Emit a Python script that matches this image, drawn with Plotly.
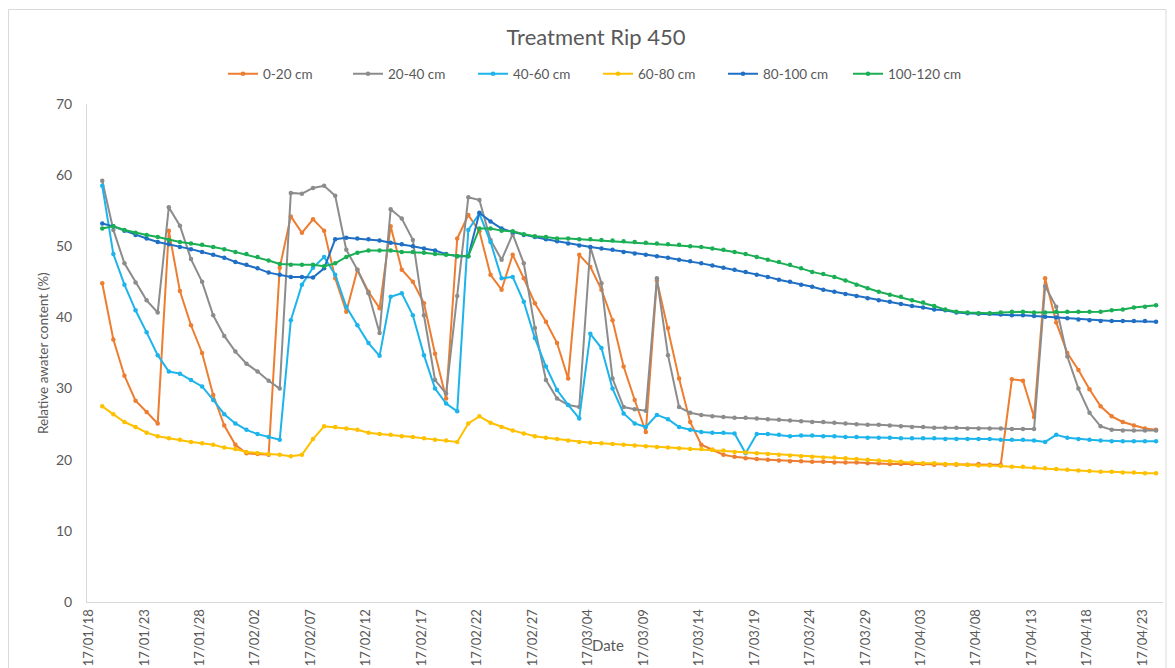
import pandas as pd
import plotly.graph_objects as go

# ---- data ----
start_date = "2017-01-19 05:00"
n_days = 96
tick_dates = pd.date_range("2017-01-18", "2017-04-23", freq="5D")

s_0_20 = [44.8, 36.9, 31.8, 28.3, 26.7, 25.1, 52.2, 43.7, 38.9, 35.0,
          29.1, 24.8, 22.1, 20.9, 20.8, 20.7, 47.0, 54.2, 51.9, 53.8,
          52.2, 45.5, 40.8, 46.7, 43.6, 41.3, 52.8, 46.7, 45.0, 42.0,
          34.9, 28.6, 51.1, 54.4, 52.1, 46.0, 43.9, 48.8, 45.5, 42.0,
          39.4, 36.4, 31.4, 48.8, 47.1, 43.9, 39.6, 33.1, 28.4, 23.9,
          45.2, 38.5, 31.4, 25.3, 22.1, 21.4, 20.7, 20.4, 20.2, 20.1,
          20.0, 19.9, 19.8, 19.8, 19.7, 19.7, 19.6, 19.6, 19.6, 19.5,
          19.5, 19.4, 19.4, 19.4, 19.4, 19.3, 19.3, 19.3, 19.3, 19.4,
          19.3, 19.3, 31.3, 31.1, 26.0, 45.5, 39.3, 35.0, 32.6, 29.9,
          27.5, 26.1, 25.3, 24.8, 24.4, 24.2]

s_20_40 = [59.2, 52.3, 47.6, 44.9, 42.4, 40.7, 55.5, 52.9, 48.2, 45.0,
           40.3, 37.4, 35.2, 33.5, 32.4, 31.1, 30.0, 57.5, 57.4, 58.2,
           58.5, 57.1, 49.5, 46.7, 43.4, 37.8, 55.2, 53.9, 50.9, 40.3,
           31.2, 29.3, 43.0, 56.9, 56.5, 50.9, 48.1, 51.7, 47.6, 38.5,
           31.2, 28.6, 27.7, 27.4, 49.9, 44.8, 31.4, 27.4, 27.1, 26.9,
           45.5, 34.7, 27.4, 26.6, 26.3, 26.1, 26.0, 25.9, 25.9, 25.8,
           25.7, 25.6, 25.5, 25.4, 25.3, 25.3, 25.2, 25.1, 25.0, 24.9,
           24.9, 24.8, 24.7, 24.6, 24.6, 24.5, 24.5, 24.5, 24.4, 24.4,
           24.4, 24.4, 24.3, 24.3, 24.3, 44.4, 41.5, 34.5, 30.0, 26.6,
           24.7, 24.2, 24.1, 24.1, 24.1, 24.1]

s_40_60 = [58.5, 48.9, 44.6, 41.0, 37.9, 34.7, 32.4, 32.1, 31.2, 30.3,
           28.4, 26.4, 25.1, 24.2, 23.6, 23.2, 22.8, 39.6, 44.6, 47.0,
           48.5, 46.0, 41.5, 38.9, 36.4, 34.6, 42.9, 43.4, 40.3, 34.7,
           30.0, 27.9, 26.8, 52.3, 54.6, 50.6, 45.5, 45.7, 42.2, 37.1,
           33.1, 29.8, 27.7, 25.8, 37.7, 35.7, 30.0, 26.5, 25.1, 24.6,
           26.3, 25.7, 24.6, 24.2, 23.9, 23.8, 23.8, 23.7, 20.9, 23.6,
           23.6, 23.5, 23.3, 23.4, 23.4, 23.3, 23.3, 23.2, 23.2, 23.1,
           23.1, 23.1, 23.0, 23.0, 23.0, 23.0, 22.9, 22.9, 22.9, 22.9,
           22.9, 22.8, 22.8, 22.8, 22.7, 22.5, 23.5, 23.1, 22.9, 22.8,
           22.7, 22.6, 22.6, 22.6, 22.6, 22.6]

s_60_80 = [27.5, 26.4, 25.3, 24.6, 23.8, 23.3, 23.0, 22.8, 22.5, 22.3,
           22.1, 21.7, 21.5, 21.1, 20.9, 20.8, 20.7, 20.5, 20.7, 22.9,
           24.7, 24.6, 24.4, 24.2, 23.8, 23.6, 23.5, 23.3, 23.2, 23.0,
           22.8, 22.7, 22.5, 25.1, 26.1, 25.2, 24.6, 24.1, 23.7, 23.3,
           23.1, 22.9, 22.7, 22.5, 22.4, 22.3, 22.2, 22.1, 22.0, 21.9,
           21.8, 21.7, 21.6, 21.5, 21.5, 21.4, 21.3, 21.1, 21.0, 20.9,
           20.8, 20.7, 20.6, 20.5, 20.4, 20.3, 20.3, 20.2, 20.1, 20.0,
           19.9, 19.8, 19.7, 19.6, 19.5, 19.5, 19.4, 19.4, 19.3, 19.2,
           19.2, 19.1, 19.0, 19.0, 18.9, 18.8, 18.7, 18.6, 18.5, 18.4,
           18.3, 18.3, 18.2, 18.2, 18.1, 18.1]

s_80_100 = [53.2, 52.8, 52.2, 51.6, 51.1, 50.6, 50.3, 49.9, 49.6, 49.2,
            48.8, 48.4, 47.8, 47.4, 46.9, 46.3, 46.0, 45.7, 45.7, 45.6,
            46.9, 51.0, 51.2, 51.1, 51.0, 50.8, 50.5, 50.3, 50.0, 49.7,
            49.4, 48.9, 48.6, 48.6, 54.7, 53.5, 52.5, 52.0, 51.6, 51.3,
            51.0, 50.7, 50.4, 50.1, 49.9, 49.7, 49.5, 49.2, 49.0, 48.8,
            48.6, 48.4, 48.1, 47.9, 47.6, 47.3, 47.0, 46.7, 46.4, 46.0,
            45.7, 45.3, 45.0, 44.6, 44.3, 43.9, 43.6, 43.3, 43.0, 42.7,
            42.4, 42.2, 41.9, 41.6, 41.4, 41.1, 41.0, 40.7, 40.6, 40.5,
            40.5, 40.4, 40.3, 40.3, 40.2, 40.1, 40.0, 39.9, 39.7, 39.6,
            39.5, 39.5, 39.5, 39.5, 39.5, 39.4]

s_100_120 = [52.5, 52.8, 52.3, 51.9, 51.6, 51.3, 50.9, 50.6, 50.4, 50.2,
             49.9, 49.6, 49.2, 48.9, 48.5, 48.0, 47.5, 47.4, 47.4, 47.4,
             47.2, 47.6, 48.5, 49.1, 49.4, 49.4, 49.4, 49.2, 49.2, 49.1,
             48.9, 48.8, 48.6, 48.6, 52.5, 52.5, 52.2, 52.1, 51.7, 51.4,
             51.3, 51.1, 51.1, 51.0, 51.0, 50.9, 50.8, 50.7, 50.6, 50.5,
             50.4, 50.3, 50.2, 50.0, 49.9, 49.7, 49.5, 49.2, 48.9, 48.5,
             48.1, 47.8, 47.4, 46.9, 46.4, 46.1, 45.7, 45.2, 44.6, 44.1,
             43.6, 43.2, 42.9, 42.4, 42.1, 41.6, 41.1, 40.8, 40.7, 40.6,
             40.6, 40.7, 40.8, 40.8, 40.7, 40.7, 40.8, 40.8, 40.8, 40.8,
             40.8, 41.0, 41.1, 41.4, 41.5, 41.7]

series_names = ["0-20 cm", "20-40 cm", "40-60 cm", "60-80 cm", "80-100 cm", "100-120 cm"]
series_values = [s_0_20, s_20_40, s_40_60, s_60_80, s_80_100, s_100_120]
series_colors = ["#ED7D31", "#8C8C8C", "#1DB4EC", "#FFC000", "#1F6FC5", "#1AAF54"]

dates = pd.date_range(start_date, periods=n_days, freq="D")

# ---- figure geometry (page offset of 8px from default body margin) ----
OFF = 8
W, H = 1175 - OFF, 668 - OFF
PL, PR, PT, PB = 87, 1163, 104, 602          # plot area in page pixels
L, T = PL - OFF, PT - OFF
R = W - (PR - OFF)
B = H - (PB - OFF)
pw, ph = W - L - R, H - T - B


def fx(page_x):
    return (page_x - OFF - L) / pw


def fy(page_y):
    return (H - B - (page_y - OFF)) / ph


fig = go.Figure()
for name, vals, col in zip(series_names, series_values, series_colors):
    assert len(vals) == n_days
    fig.add_trace(go.Scatter(
        x=dates, y=vals, name=name, mode="lines+markers",
        line=dict(color=col, width=2),
        marker=dict(color=col, size=4.5, symbol="circle"),
    ))

txt = "#595959"
font_family = "Lato, 'Liberation Sans', sans-serif"

fig.update_layout(
    width=W, height=H,
    margin=dict(l=L, r=R, t=T, b=B, autoexpand=False),
    paper_bgcolor="white", plot_bgcolor="white",
    font=dict(family=font_family, color=txt, size=13),
    title=dict(text="Treatment Rip 450", x=(596 - OFF) / W, xanchor="center",
               y=1 - (37 - OFF) / H, yanchor="middle", font=dict(size=22, color=txt)),
    legend=dict(orientation="h", x=fx(598), xanchor="center",
                y=fy(74), yanchor="middle",
                font=dict(size=13.5, color=txt), itemwidth=30,
                entrywidth=80, entrywidthmode="pixels",
                bgcolor="rgba(0,0,0,0)"),
    showlegend=True,
)

fig.update_xaxes(
    range=["2017-01-17 20:00", "2017-04-24 20:00"],
    tickvals=list(tick_dates),
    ticktext=[d.strftime("%y/%m/%d") for d in tick_dates],
    tickangle=-90, tickfont=dict(size=13, color=txt),
    showgrid=False, zeroline=False,
    showline=True, linecolor="#D9D9D9", linewidth=1,
    ticks="", ticklabelstandoff=1,
)
fig.update_yaxes(
    range=[0, 70], tickvals=[0, 10, 20, 30, 40, 50, 60, 70],
    tickfont=dict(size=14, color=txt),
    showgrid=False, zeroline=False,
    showline=True, linecolor="#D9D9D9", linewidth=1,
    ticks="", ticklabelstandoff=11,
)

# axis titles as annotations
fig.add_annotation(text="Relative awater content (%)", xref="paper", yref="paper",
                   x=fx(43), y=fy(353), textangle=-90,
                   showarrow=False, font=dict(size=13.5, color=txt),
                   xanchor="center", yanchor="middle")
fig.add_annotation(text="Date", xref="paper", yref="paper",
                   x=fx(608), y=fy(645),
                   showarrow=False, font=dict(size=15, color=txt),
                   xanchor="center", yanchor="middle")

# chart border
fig.add_shape(type="rect", xref="paper", yref="paper",
              x0=fx(8.5), x1=fx(1166), y0=fy(720), y1=fy(9.5),
              line=dict(color="#D9D9D9", width=1), fillcolor="rgba(0,0,0,0)",
              layer="below")

fig.write_html("out.html")
